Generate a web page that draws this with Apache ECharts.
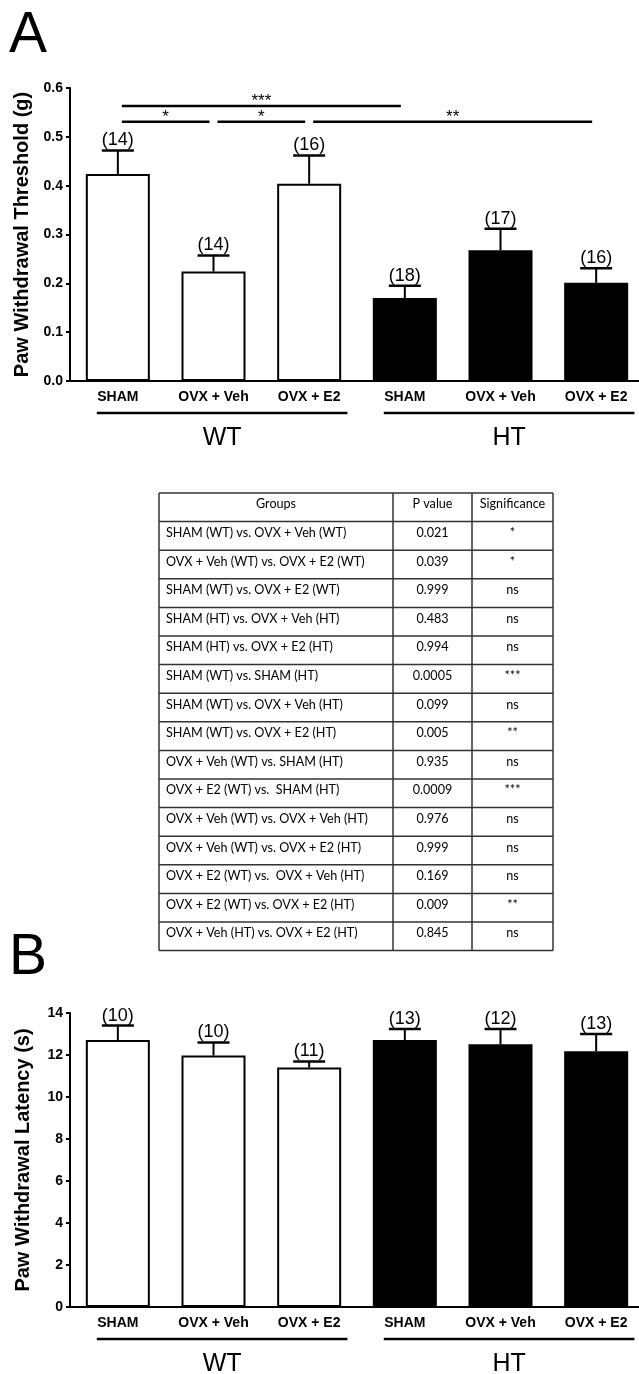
<!DOCTYPE html>
<html>
<head>
<meta charset="utf-8">
<title>Paw withdrawal threshold and latency</title>
<script src="https://cdn.jsdelivr.net/npm/echarts@6/dist/echarts.min.js"></script>
<style>
html, body { margin: 0; padding: 0; background: #fff; }
#chart { width: 639px; height: 1374px; }
</style>
</head>
<body>
<div id="chart"></div>
<script>
// groups on both panels
const categories = ['SHAM', 'OVX + Veh', 'OVX + E2', 'SHAM', 'OVX + Veh', 'OVX + E2']
const barFills = ['#ffffff', '#ffffff', '#ffffff', '#000000', '#000000', '#000000']
const genotypes = [['WT', 0, 2], ['HT', 3, 5]]

// panel A: von Frey threshold (g)
const thresholdMean = [0.424, 0.224, 0.404, 0.170, 0.268, 0.201]
const thresholdSem = [0.048, 0.033, 0.058, 0.025, 0.044, 0.030]
const thresholdN = [14, 14, 16, 18, 17, 16]
// [from, to, height, stars]
const thresholdSig = [
  [0, 1, 0.531, '*'],
  [1, 2, 0.531, '*'],
  [2, 5, 0.531, '**'],
  [0, 3, 0.563, '***']
]

// panel B: latency (s)
const latencyMean = [12.71, 11.98, 11.40, 12.71, 12.51, 12.18]
const latencySem = [0.69, 0.62, 0.29, 0.53, 0.73, 0.82]
const latencyN = [10, 10, 11, 13, 12, 13]

// post-hoc table
const tableHeader = ['Groups', 'P value', 'Significance']
const tableGroups = [
  'SHAM (WT) vs. OVX + Veh (WT)',
  'OVX + Veh (WT) vs. OVX + E2 (WT)',
  'SHAM (WT) vs. OVX + E2 (WT)',
  'SHAM (HT) vs. OVX + Veh (HT)',
  'SHAM (HT) vs. OVX + E2 (HT)',
  'SHAM (WT) vs. SHAM (HT)',
  'SHAM (WT) vs. OVX + Veh (HT)',
  'SHAM (WT) vs. OVX + E2 (HT)',
  'OVX + Veh (WT) vs. SHAM (HT)',
  'OVX + E2 (WT) vs.  SHAM (HT)',
  'OVX + Veh (WT) vs. OVX + Veh (HT)',
  'OVX + Veh (WT) vs. OVX + E2 (HT)',
  'OVX + E2 (WT) vs.  OVX + Veh (HT)',
  'OVX + E2 (WT) vs. OVX + E2 (HT)',
  'OVX + Veh (HT) vs. OVX + E2 (HT)'
]
const tablePValues = ['0.021', '0.039', '0.999', '0.483', '0.994', '0.0005', '0.099', '0.005',
  '0.935', '0.0009', '0.976', '0.999', '0.169', '0.009', '0.845']
const tableSignificance = ['*', '*', 'ns', 'ns', 'ns', '***', 'ns', '**', 'ns', '***', 'ns', 'ns', 'ns', '**', 'ns']

const FONT = '"Liberation Sans", Arial, sans-serif'
const TABLE_FONT = 'Lato, "Open Sans", sans-serif'

const chart = echarts.init(document.getElementById('chart'))

const makeXAxis = (gridIndex) => ({
  type: 'category',
  gridIndex,
  data: categories,
  axisLine: { lineStyle: { color: '#000', width: 2 } },
  axisTick: { alignWithLabel: true, length: 5, lineStyle: { color: '#000', width: 2 } },
  axisLabel: { interval: 0, margin: 9, color: '#000', fontFamily: FONT, fontWeight: 'bold', fontSize: 14 },
  splitLine: { show: false }
})

const makeYAxis = (gridIndex, max, interval, name, digits) => ({
  type: 'value',
  gridIndex,
  min: 0,
  max,
  interval,
  name,
  nameLocation: 'middle',
  nameGap: 37,
  nameTextStyle: { color: '#000', fontFamily: FONT, fontWeight: 'bold', fontSize: 20 },
  axisLine: { show: true, lineStyle: { color: '#000', width: 2 } },
  axisTick: { show: true, length: 4, lineStyle: { color: '#000', width: 2 } },
  axisLabel: { margin: 7, color: '#000', fontFamily: FONT, fontWeight: 'bold', fontSize: 14,
    formatter: (v) => v.toFixed(digits) },
  splitLine: { show: false }
})

const barSeries = (idx, means) => ({
  type: 'bar',
  xAxisIndex: idx,
  yAxisIndex: idx,
  barWidth: 64,
  silent: true,
  itemStyle: { borderColor: '#000', borderWidth: 2 },
  data: means.map((v, i) => ({ value: v, itemStyle: { color: barFills[i] } }))
})

const errorSeries = (idx, means, sem, n) => ({
  type: 'custom',
  xAxisIndex: idx,
  yAxisIndex: idx,
  silent: true,
  z: 3,
  encode: { x: 0, y: 1 },
  data: means.map((m, i) => [i, m, sem[i]]),
  renderItem: (params, api) => {
    const i = api.value(0)
    const base = api.coord([i, api.value(1)])
    const top = api.coord([i, api.value(1) + api.value(2)])
    return {
      type: 'group',
      children: [
        { type: 'line', shape: { x1: base[0], y1: base[1], x2: top[0], y2: top[1] },
          style: { stroke: '#000', lineWidth: 2 } },
        { type: 'line', shape: { x1: top[0] - 16, y1: top[1], x2: top[0] + 16, y2: top[1] },
          style: { stroke: '#000', lineWidth: 2.5 } },
        { type: 'text', style: { text: '(' + n[params.dataIndex] + ')', x: top[0], y: top[1] - 1,
          align: 'center', verticalAlign: 'bottom', fill: '#000', font: '18px ' + FONT } }
      ]
    }
  }
})

const sigSeries = (idx, brackets) => ({
  type: 'custom',
  xAxisIndex: idx,
  yAxisIndex: idx,
  silent: true,
  encode: { x: [0, 1], y: 2 },
  data: brackets.map((b) => [b[0], b[1], b[2]]),
  renderItem: (params, api) => {
    const a = api.coord([api.value(0), api.value(2)])
    const b = api.coord([api.value(1), api.value(2)])
    return {
      type: 'group',
      children: [
        { type: 'line', shape: { x1: a[0] + 4, y1: a[1], x2: b[0] - 4, y2: b[1] },
          style: { stroke: '#000', lineWidth: 2.5 } },
        { type: 'text', style: { text: brackets[params.dataIndex][3], x: (a[0] + b[0]) / 2, y: a[1] + 4,
          align: 'center', verticalAlign: 'bottom', fill: '#000', font: '17px ' + FONT } }
      ]
    }
  }
})

const genotypeSeries = (idx) => ({
  type: 'custom',
  xAxisIndex: idx,
  yAxisIndex: idx,
  silent: true,
  data: genotypes.map((g) => [g[1], g[2]]),
  renderItem: (params, api) => {
    const a = api.coord([api.value(0), 0])
    const b = api.coord([api.value(1), 0])
    const band = api.size([1, 0])[0]
    const x1 = a[0] - band * 0.22
    const x2 = b[0] + band * 0.40
    const y = a[1] + 32
    return {
      type: 'group',
      children: [
        { type: 'line', shape: { x1, y1: y, x2, y2: y }, style: { stroke: '#000', lineWidth: 2.5 } },
        { type: 'text', style: { text: genotypes[params.dataIndex][0], x: (x1 + x2) / 2, y: y + 25,
          align: 'center', verticalAlign: 'middle', fill: '#000', font: '25px ' + FONT } }
      ]
    }
  }
})

// table drawn as graphic elements
const tableCols = [159, 393, 472, 553]
const tableTop = 493
const rowH = 28.6
const tableRows = [tableHeader].concat(tableGroups.map((g, i) => [g, tablePValues[i], tableSignificance[i]]))
const tableElements = []
const tableBottom = tableTop + tableRows.length * rowH
for (let r = 0; r <= tableRows.length; r++) {
  const y = tableTop + r * rowH
  tableElements.push({ type: 'line', shape: { x1: tableCols[0], y1: y, x2: tableCols[3], y2: y },
    style: { stroke: '#333', lineWidth: 1.5 } })
}
tableCols.forEach((x) => {
  tableElements.push({ type: 'line', shape: { x1: x, y1: tableTop, x2: x, y2: tableBottom },
    style: { stroke: '#333', lineWidth: 1.5 } })
})
tableRows.forEach((row, r) => {
  const cy = tableTop + r * rowH + rowH / 2 - 3
  row.forEach((txt, c) => {
    const left = c === 0 && r > 0
    tableElements.push({ type: 'text', style: {
      text: txt,
      x: left ? tableCols[0] + 7 : (tableCols[c] + tableCols[c + 1]) / 2,
      y: cy,
      align: left ? 'left' : 'center',
      verticalAlign: 'middle',
      fill: '#000',
      font: '12.6px ' + TABLE_FONT
    } })
  })
})

const option = {
  animation: false,
  backgroundColor: '#fff',
  grid: [
    { left: 70, top: 88, width: 574, height: 293, outerBoundsMode: 'none' },
    { left: 70, top: 1013, width: 574, height: 294, outerBoundsMode: 'none' }
  ],
  xAxis: [makeXAxis(0), makeXAxis(1)],
  yAxis: [
    makeYAxis(0, 0.6, 0.1, 'Paw Withdrawal Threshold (g)', 1),
    makeYAxis(1, 14, 2, 'Paw Withdrawal Latency (s)', 0)
  ],
  graphic: [
    { type: 'text', left: 9, top: 8, style: { text: 'A', fill: '#000', font: '57px ' + FONT } },
    { type: 'text', left: 9, top: 930, style: { text: 'B', fill: '#000', font: '57px ' + FONT } },
    { type: 'group', children: tableElements }
  ],
  series: [
    barSeries(0, thresholdMean),
    errorSeries(0, thresholdMean, thresholdSem, thresholdN),
    sigSeries(0, thresholdSig),
    genotypeSeries(0),
    barSeries(1, latencyMean),
    errorSeries(1, latencyMean, latencySem, latencyN),
    genotypeSeries(1)
  ]
}

chart.setOption(option)
window.addEventListener('resize', () => chart.resize())
</script>
</body>
</html>
